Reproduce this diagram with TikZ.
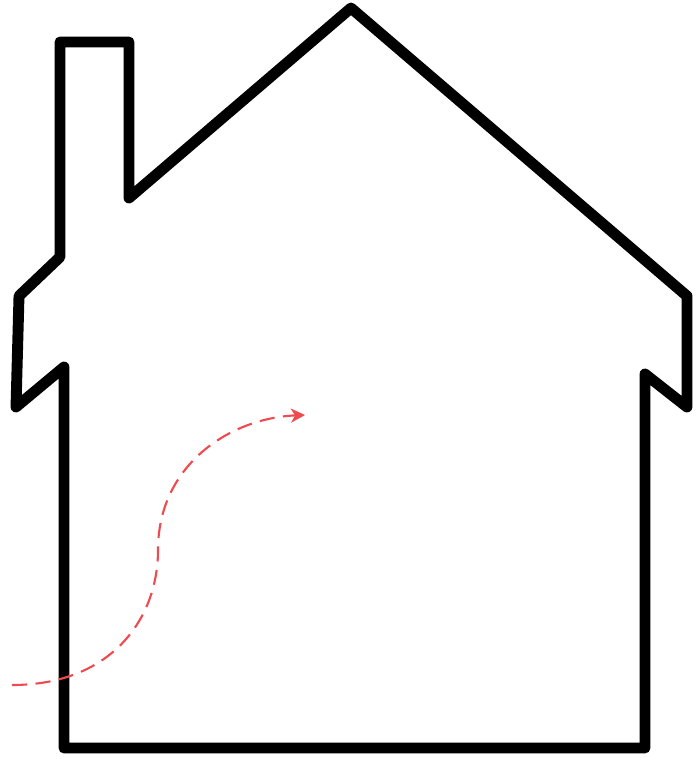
\documentclass[tikz,border=0pt]{standalone}
\usepackage{tikz}
\usetikzlibrary{arrows.meta, calc}
\definecolor{pathred}{HTML}{EF4A4F}

\begin{document}
\begin{tikzpicture}[x=0.01cm, y=-0.01cm,
    wall/.style={draw=black, line width=3.1pt, line join=round},
    entry/.style={draw=pathred, line width=0.6pt, dash pattern=on 4.3pt off 2.4pt, -{Stealth[length=4pt, width=4pt, inset=1.2pt]}}]
  \useasboundingbox (0,0) rectangle (696,759);
  % house outline with chimney
  \draw[wall] (60,42) -- (129,42) -- (129,198) -- (351,8) -- (687,296)
    -- (687,407) -- (645,374) -- (645,748) -- (64,748) -- (64,367)
    -- (16,407) -- (19,296) -- (60,257) -- cycle;
  % path into the house
  \coordinate (outside) at (12,685);
  \coordinate (inside) at (305,415);
  \draw[entry] (outside) .. controls (110,685) and (158,620) .. (158,550)
    .. controls (158,465) and (230,418) .. (inside);
\end{tikzpicture}
\end{document}
